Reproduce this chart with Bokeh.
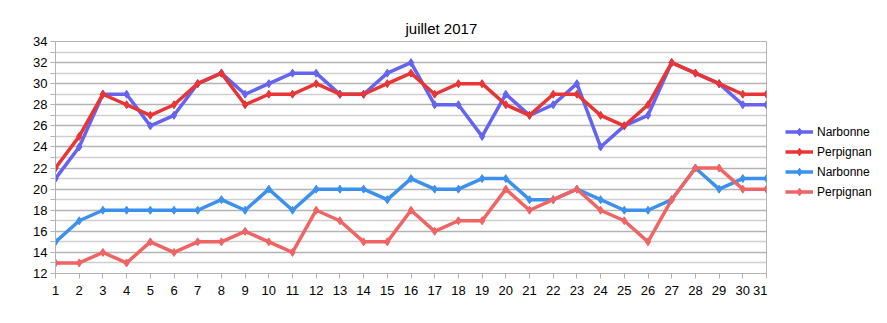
from bokeh.plotting import figure
from bokeh.layouts import row
from bokeh.models import Range1d, FixedTicker, Legend, LegendItem, ColumnDataSource
from bokeh.embed import file_html
from bokeh.resources import INLINE

days = list(range(1, 32))
narbonne_max = [21, 24, 29, 29, 26, 27, 30, 31, 29, 30, 31, 31, 29, 29, 31, 32,
                28, 28, 25, 29, 27, 28, 30, 24, 26, 27, 32, 31, 30, 28, 28]
perpignan_max = [22, 25, 29, 28, 27, 28, 30, 31, 28, 29, 29, 30, 29, 29, 30, 31,
                 29, 30, 30, 28, 27, 29, 29, 27, 26, 28, 32, 31, 30, 29, 29]
narbonne_min = [15, 17, 18, 18, 18, 18, 18, 19, 18, 20, 18, 20, 20, 20, 19, 21,
                20, 20, 21, 21, 19, 19, 20, 19, 18, 18, 19, 22, 20, 21, 21]
perpignan_min = [13, 13, 14, 13, 15, 14, 15, 15, 16, 15, 14, 18, 17, 15, 15, 18,
                 16, 17, 17, 20, 18, 19, 20, 18, 17, 15, 19, 22, 22, 20, 20]

series_names = ["Narbonne", "Perpignan", "Narbonne", "Perpignan"]
series_values = [narbonne_max, perpignan_max, narbonne_min, perpignan_min]
series_colors = ["#6464f0", "#e83535", "#3d91ee", "#f06464"]

y_ticks = list(range(12, 35, 2))
y_minor = list(range(13, 34, 2))

FONT = "Liberation Sans"

p = figure(width=767, height=323, output_backend="svg", toolbar_location=None,
           x_range=Range1d(1, 31), y_range=Range1d(12, 34),
           min_border_left=55, min_border_right=1, min_border_top=41,
           min_border_bottom=50, title="juillet 2017")

p.title.text_font = FONT
p.title.text_font_size = "15px"
p.title.text_font_style = "normal"
p.title.text_color = "#000000"
p.title.align = "left"
p.title.offset = 350

p.outline_line_color = "#b3b3b3"
p.outline_line_width = 1
p.background_fill_color = "white"
p.border_fill_color = "white"

p.xgrid.visible = False
p.ygrid.grid_line_color = "#b3b3b3"
p.ygrid.minor_grid_line_color = "#cfcfcf"
p.ygrid.grid_line_width = 1.5
p.ygrid.minor_grid_line_width = 1.5

p.yaxis.ticker = FixedTicker(ticks=y_ticks, minor_ticks=y_minor)
p.xaxis.ticker = FixedTicker(ticks=days)

for ax in (p.xaxis[0], p.yaxis[0]):
    ax.axis_line_color = "#b3b3b3"
    ax.major_tick_line_color = "#b3b3b3"
    ax.minor_tick_line_color = "#b3b3b3"
    ax.major_tick_in = 0
    ax.major_tick_out = 5
    ax.minor_tick_in = 0
    ax.minor_tick_out = 5
    ax.major_label_text_font = FONT
    ax.major_label_text_color = "#000000"
p.xaxis.minor_tick_line_color = None
p.yaxis.major_label_text_font_size = "13px"
p.xaxis.major_label_text_font_size = "13px"
p.yaxis.major_label_standoff = 3
p.xaxis.major_label_standoff = 7

# Legend panel: a second figure whose data lies outside its view
p2 = figure(width=120, height=323, output_backend="svg", toolbar_location=None,
            x_range=Range1d(100, 101), y_range=Range1d(100, 101),
            min_border=0)
p2.axis.visible = False
p2.grid.visible = False
p2.outline_line_color = None
p2.background_fill_color = "white"
p2.border_fill_color = "white"

items = []
for name, vals, col in zip(series_names, series_values, series_colors):
    src = ColumnDataSource(dict(x=days, y=vals))
    p.line("x", "y", source=src, line_color=col, line_width=3.5)
    p.scatter("x", "y", source=src, marker="diamond", size=8,
              fill_color=col, line_color=col)
    l1 = p2.line("x", "y", source=src, line_color=col, line_width=3.5)
    l2 = p2.scatter("x", "y", source=src, marker="diamond", size=8,
                    fill_color=col, line_color=col)
    items.append(LegendItem(label=name, renderers=[l1, l2]))

legend = Legend(items=items, location=(18, 72))
legend.label_text_font = FONT
legend.label_text_font_size = "12px"
legend.label_text_color = "#000000"
legend.glyph_width = 28
legend.glyph_height = 19
legend.label_height = 19
legend.spacing = 1
legend.padding = 0
legend.margin = 0
legend.label_standoff = 4
legend.border_line_color = None
legend.background_fill_alpha = 0
p2.add_layout(legend, "center")

layout = row(p, p2)
open("out.html", "w").write(file_html(layout, INLINE))
